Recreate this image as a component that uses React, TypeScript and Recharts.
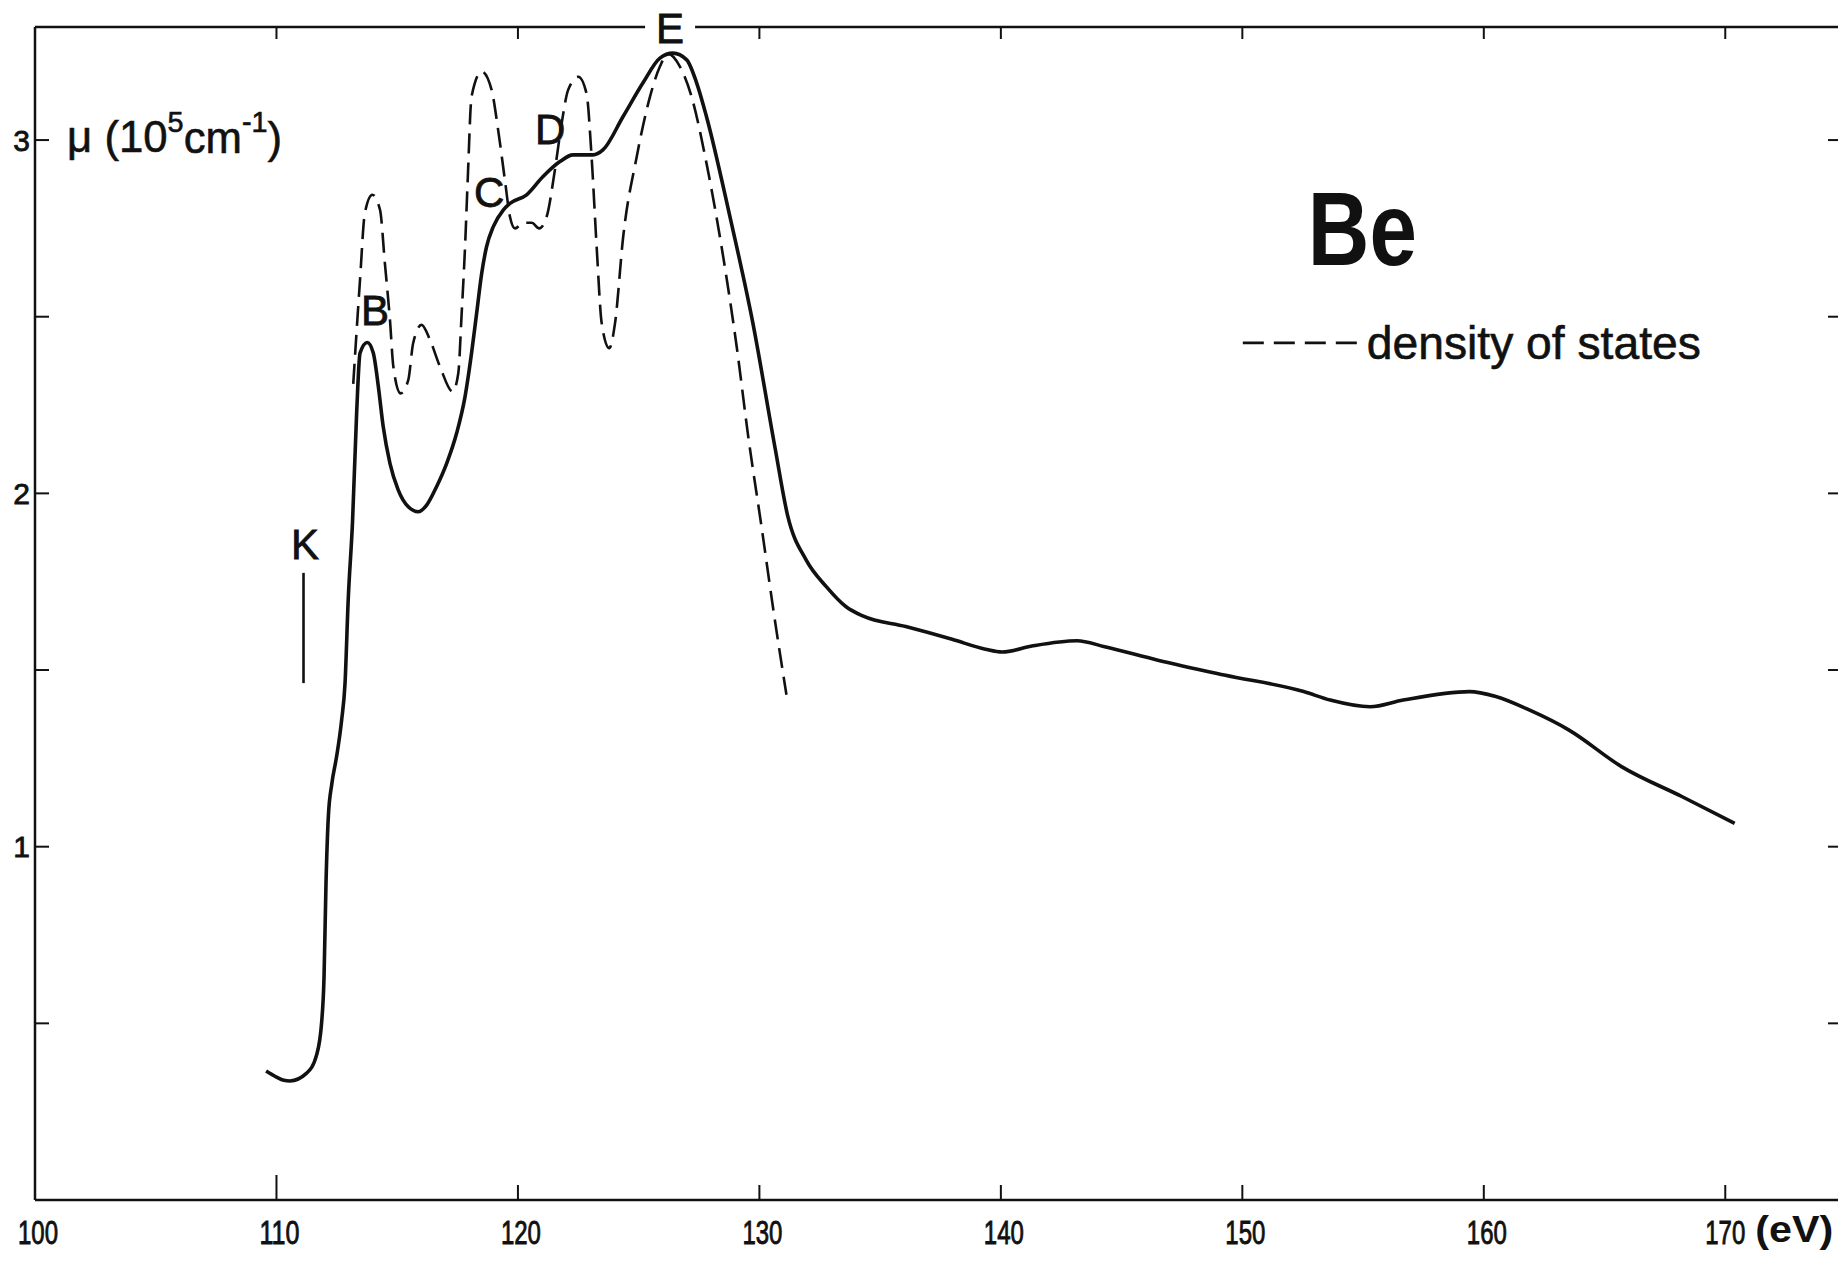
import React from 'react';
import { LineChart, Line, XAxis, YAxis, ReferenceDot, ReferenceLine } from 'recharts';

// energy axis (eV) and absorption axis (10^5 cm^-1)
const X_TICKS = [100, 110, 120, 130, 140, 150, 160, 170];
const Y_TICKS = [0.5, 1, 1.5, 2, 2.5, 3];
const Y_LABELED = [1, 2, 3];

// measured absorption coefficient (solid)
const muEnergy = [
  109.57, 110.0, 110.3, 110.56, 111.25, 111.66, 111.87, 111.97, 112.05, 112.15, 112.29, 112.49, 112.7, 112.84,
  112.97, 113.15, 113.32, 113.46, 113.76, 114.01, 114.22, 114.42, 114.7, 115.04, 115.46, 115.87, 116.22, 116.63,
  117.05, 117.46, 117.81, 118.08, 118.29, 118.5, 118.7, 118.98, 119.39, 119.67, 120.36, 121.03, 121.74, 122.28,
  123.11, 123.52, 124.35, 125.18, 125.88, 126.42, 126.99, 127.4, 127.81, 128.78, 129.73, 130.64, 131.17, 131.94,
  132.77, 133.59, 134.28, 136.06, 137.98, 139.36, 140.05, 141.28, 143.15, 144.3, 146.5, 149.25, 152.54, 153.64,
  155.29, 156.66, 159.41, 160.5, 161.88, 163.53, 165.72, 168.2, 170.39,
];
const muValue = [
  0.365, 0.348, 0.339, 0.337, 0.359, 0.41, 0.502, 0.631, 0.892, 1.087, 1.177, 1.255, 1.359, 1.463,
  1.697, 1.92, 2.227, 2.397, 2.427, 2.397, 2.302, 2.189, 2.085, 2.01, 1.962, 1.948, 1.967, 2.019,
  2.085, 2.17, 2.274, 2.397, 2.51, 2.623, 2.698, 2.755, 2.802, 2.821, 2.845, 2.896, 2.939, 2.958,
  2.958, 2.972, 3.066, 3.162, 3.232, 3.246, 3.227, 3.162, 3.066, 2.783, 2.482, 2.132, 1.937, 1.811,
  1.736, 1.679, 1.653, 1.623, 1.587, 1.559, 1.551, 1.568, 1.583, 1.566, 1.528, 1.486, 1.439, 1.415,
  1.396, 1.415, 1.439, 1.425, 1.387, 1.33, 1.226, 1.142, 1.066,
];

// density of states (dashed)
const dosEnergy = [
  113.18, 113.46, 113.66, 113.97, 114.29, 114.49, 114.7, 114.84, 115.14, 115.46, 115.66, 116.01, 116.36, 116.77,
  117.3, 117.53, 117.67, 117.81, 117.92, 118.08, 118.5, 118.91, 119.18, 119.46, 119.67, 119.88, 120.22, 120.57,
  120.88, 121.19, 121.53, 121.81, 122.08, 122.5, 122.84, 123.05, 123.26, 123.47, 123.78, 124.02, 124.36, 124.92,
  125.47, 125.88, 126.22, 126.71, 127.19, 127.81, 128.5, 129.06, 129.54, 130.1, 130.6, 131.12,
];
const dosValue = [
  2.31, 2.604, 2.793, 2.845, 2.802, 2.651, 2.491, 2.359, 2.283, 2.321, 2.425, 2.477, 2.434, 2.359,
  2.288, 2.34, 2.51, 2.698, 2.887, 3.123, 3.194, 3.142, 3.029, 2.887, 2.783, 2.75, 2.766, 2.766,
  2.75, 2.783, 2.915, 3.047, 3.142, 3.179, 3.132, 2.953, 2.698, 2.481, 2.411, 2.481, 2.727, 2.953,
  3.123, 3.208, 3.244, 3.208, 3.123, 2.934, 2.67, 2.415, 2.16, 1.9, 1.66, 1.43,
];

// peak labels
const peakNames = ['B', 'C', 'D', 'E', 'K'];
const peakEnergy = [114.08, 118.81, 121.33, 126.3, 111.18];
const peakValue = [2.519, 2.851, 3.03, 3.317, 1.854];

const muData = muEnergy.map((x, i) => ({ x, y: muValue[i] }));
const dosData = dosEnergy.map((x, i) => ({ x, y: dosValue[i] }));

const FONT = '"Liberation Sans", Arial, sans-serif';
const INK = '#111';

const centerOf = (props: any) => {
  const vb = props.viewBox || {};
  return { cx: (vb.x ?? 0) + (vb.width ?? 0) / 2, cy: (vb.y ?? 0) + (vb.height ?? 0) / 2 };
};

const BottomTick = (props: any) => {
  const { x, y, payload } = props;
  const v = payload.value;
  const len = v === 110 ? 25 : 15;
  return (
    <g>
      {v !== 100 && <line x1={x} x2={x} y1={y} y2={y - len} stroke={INK} strokeWidth={2} />}
      <text x={v === 170 ? x : x + 3} y={y + 32} textAnchor="middle" dominantBaseline="central" fontFamily={FONT}
        fontSize={33} fill={INK} stroke={INK} strokeWidth={0.9} textLength={40} lengthAdjust="spacingAndGlyphs">{v}</text>
      {v === 170 && (
        <text x={x + 30} y={y + 29} dominantBaseline="central" fontFamily={FONT} fontWeight="bold"
          fontSize={36} fill={INK} textLength={78} lengthAdjust="spacingAndGlyphs">(eV)</text>
      )}
    </g>
  );
};

const TopTick = (props: any) => {
  const { x, y } = props;
  return <line x1={x} x2={x} y1={y} y2={y + 12} stroke={INK} strokeWidth={2} />;
};

const LeftTick = (props: any) => {
  const { x, y, payload } = props;
  const v = payload.value;
  return (
    <g>
      <line x1={x} x2={x + 14} y1={y} y2={y} stroke={INK} strokeWidth={2} />
      {Y_LABELED.includes(v) && (
        <text x={x - 5} y={y} textAnchor="end" dominantBaseline="central" fontFamily={FONT}
          fontSize={30} fill={INK} stroke={INK} strokeWidth={0.8}>{v}</text>
      )}
    </g>
  );
};

const RightTick = (props: any) => {
  const { x, y } = props;
  return <line x1={x} x2={x - 18} y1={y} y2={y} stroke={INK} strokeWidth={2} />;
};

const peakLabel = (name: string) => (props: any) => {
  const { cx, cy } = centerOf(props);
  return (
    <g>
      {name === 'E' && <rect x={cx - 25} y={cy - 22} width={50} height={40} fill="#fff" />}
      <text x={cx} y={cy} textAnchor="middle" dominantBaseline="central" fontFamily={FONT}
        fontSize={42} fill={INK} stroke={INK} strokeWidth={0.8}>{name}</text>
    </g>
  );
};

const yTitle = (props: any) => {
  const { cx, cy } = centerOf(props);
  return (
    <text x={cx} y={cy} dominantBaseline="central" fontFamily={FONT} fontSize={44} fill={INK}
      stroke={INK} strokeWidth={0.6} textLength={215} lengthAdjust="spacingAndGlyphs">
      μ (10<tspan fontSize={29} dy={-15}>5</tspan>
      <tspan dy={15}>cm</tspan>
      <tspan fontSize={29} dy={-15}>-1</tspan>
      <tspan dy={15}>)</tspan>
    </text>
  );
};

const elementTitle = (props: any) => {
  const { cx, cy } = centerOf(props);
  return (
    <text x={cx} y={cy} textAnchor="middle" dominantBaseline="central" fontFamily={FONT}
      fontWeight="bold" fontSize={104} fill={INK} textLength={109} lengthAdjust="spacingAndGlyphs">Be</text>
  );
};

const dosKey = (props: any) => {
  const { cx, cy } = centerOf(props);
  return (
    <g>
      <line x1={cx} x2={cx + 115} y1={cy} y2={cy} stroke={INK} strokeWidth={2.6} strokeDasharray="21 10" />
      <text x={cx + 124} y={cy} dominantBaseline="central" fontFamily={FONT} fontSize={46} fill={INK}
        stroke={INK} strokeWidth={0.6} textLength={334} lengthAdjust="spacingAndGlyphs">density of states</text>
    </g>
  );
};

export default function App() {
  return (
    <div style={{ position: 'fixed', left: 0, top: 0, width: 1838, height: 1278, overflow: 'hidden', background: '#fff' }}>
      <LineChart width={1860} height={1278} margin={{ top: 7, right: 4, bottom: 38, left: 5 }}>
        <XAxis xAxisId="b" type="number" dataKey="x" domain={[100, 175]} ticks={X_TICKS} interval={0}
          allowDataOverflow height={40} tickSize={0} tickMargin={0} tickLine={false} tick={BottomTick}
          axisLine={{ stroke: INK, strokeWidth: 2.5 }} />
        <XAxis xAxisId="t" orientation="top" type="number" dataKey="x" domain={[100, 175]} ticks={X_TICKS.slice(1)}
          interval={0} allowDataOverflow height={20} tickSize={0} tickMargin={0} tickLine={false} tick={TopTick}
          axisLine={{ stroke: INK, strokeWidth: 2.5 }} />
        <YAxis yAxisId="l" type="number" domain={[0, 3.32]} ticks={Y_TICKS} interval={0} allowDataOverflow
          width={30} tickSize={0} tickMargin={0} tickLine={false} tick={LeftTick}
          axisLine={{ stroke: INK, strokeWidth: 2.5 }} />
        <YAxis yAxisId="r" orientation="right" type="number" domain={[0, 3.32]} ticks={Y_TICKS} interval={0}
          allowDataOverflow width={10} tickSize={0} tickMargin={0} tickLine={false} tick={RightTick}
          axisLine={{ stroke: INK, strokeWidth: 2.5 }} />

        <Line xAxisId="b" yAxisId="l" data={muData} dataKey="y" type="monotone" stroke={INK} strokeWidth={3.6}
          dot={false} activeDot={false} isAnimationActive={false} />
        <Line xAxisId="t" yAxisId="r" data={dosData} dataKey="y" type="monotone" stroke={INK} strokeWidth={2.6}
          strokeDasharray="20 9" dot={false} activeDot={false} isAnimationActive={false} />

        <ReferenceLine xAxisId="b" yAxisId="l" segment={[{ x: 111.12, y: 1.463 }, { x: 111.12, y: 1.775 }]}
          stroke={INK} strokeWidth={2.6} />

        {peakNames.map((n, i) => (
          <ReferenceDot key={n} xAxisId="b" yAxisId="l" x={peakEnergy[i]} y={peakValue[i]} r={1}
            fill="none" stroke="none" label={peakLabel(n)} />
        ))}
        <ReferenceDot xAxisId="b" yAxisId="l" x={101.33} y={3.009} r={1} fill="none" stroke="none" label={yTitle} />
        <ReferenceDot xAxisId="b" yAxisId="l" x={154.97} y={2.748} r={1} fill="none" stroke="none" label={elementTitle} />
        <ReferenceDot xAxisId="b" yAxisId="l" x={150.02} y={2.426} r={1} fill="none" stroke="none" label={dosKey} />
      </LineChart>
    </div>
  );
}
